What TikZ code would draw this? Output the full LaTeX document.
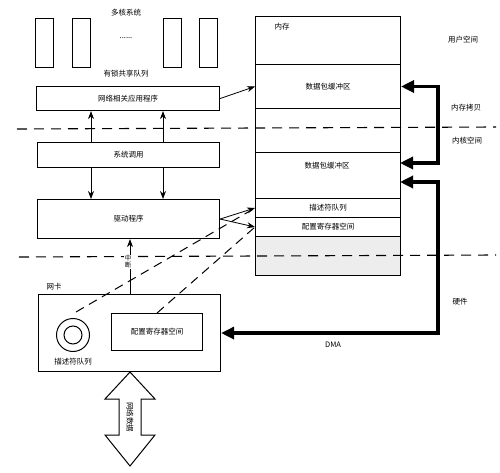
\documentclass[tikz,border=0pt]{standalone}
\usepackage{fontspec}
\setmainfont{Noto Sans CJK SC}
\usetikzlibrary{arrows.meta}
\begin{document}
\begin{tikzpicture}[x=1pt,y=-1pt,
  font=\fontsize{7.5}{8}\selectfont,
  box/.style={draw, line width=1.1pt, fill=white, inner sep=0pt, anchor=north west},
  sect/.style={draw, line width=1pt, inner sep=0pt, anchor=north west, minimum width=145pt},
  lbl/.style={inner sep=1pt},
  bound/.style={line width=1.1pt, dash pattern=on 10pt off 7pt},
  link/.style={line width=1pt, dash pattern=on 9pt off 6pt},
  thinarrow/.style={line width=0.8pt, -{Stealth[length=8pt,width=6pt]}},
  thinboth/.style={line width=0.8pt, {Stealth[length=8pt,width=6pt]}-{Stealth[length=8pt,width=6pt]}},
  bigarrow/.style={line width=3.2pt, {Triangle[length=13pt,width=12pt]}-{Triangle[length=13pt,width=12pt]}}]
\useasboundingbox (0,0) rectangle (500,473);

% ---- multi-core system
\node[lbl] (multi) at (126,13) {多核系统};
\node[box, minimum width=18pt, minimum height=49pt] (core1) at (35,18) {};
\node[box, minimum width=18pt, minimum height=49pt] (core2) at (72,18) {};
\node[box, minimum width=18pt, minimum height=49pt] (core3) at (163,18) {};
\node[box, minimum width=18pt, minimum height=49pt] (core4) at (199,18) {};
\node[lbl] (dots) at (126,38) {......};
\node[lbl] (lockq) at (126,74) {有锁共享队列};

% ---- vertical double arrows (behind system call box)
\coordinate (vx1) at (91,0);
\coordinate (vx2) at (163,0);

\node[box, minimum width=183pt, minimum height=24pt] (app) at (36,86) {};
\node[lbl] at (app.center) {网络相关应用程序};
\node[box, minimum width=182pt, minimum height=39pt] (driver) at (37,199) {};
\node[lbl] at (driver.center) {驱动程序};

\draw[thinboth] (app.south -| vx1) -- (driver.north -| vx1);
\draw[thinboth] (app.south -| vx2) -- (driver.north -| vx2);

\node[box, minimum width=182pt, minimum height=25pt] (syscall) at (37,142) {};
\node[lbl] at (syscall.center) {系统调用};

% ---- memory
\node[sect, minimum height=48pt] (memtop) at (255,16) {};
\node[lbl] (memlbl) at (282,27) {内存};
\node[sect, minimum height=44pt] (buf1) at (255,64) {};
\node[lbl] at (buf1.center) {数据包缓冲区};
\node[sect, minimum height=44pt] (memgap) at (255,108) {};
\node[sect, minimum height=46pt] (buf2) at (255,152) {};
\node[lbl] (buf2lbl) at (327,166) {数据包缓冲区};
\node[sect, minimum height=19pt] (desc) at (255,198) {};
\node[lbl] at (desc.center) {描述符队列};
\node[sect, minimum height=19pt] (cfg) at (255,217) {};
\node[lbl] at (cfg.center) {配置寄存器空间};
\node[sect, minimum height=39pt, fill=gray!14] (membot) at (255,236) {};

% ---- boundary lines
\coordinate (b1a) at (17,129);
\coordinate (b1b) at (496,127);
\coordinate (b2a) at (19,257);
\coordinate (b2b) at (496,255);
\draw[bound] (b1a) -- (b1b);
\draw[bound] (b2a) -- (b2b);

% ---- right labels
\node[lbl] (user) at (463,40) {用户空间};
\node[lbl] (copy) at (466,108) {内存拷贝};
\node[lbl] (kernel) at (467,141) {内核空间};
\node[lbl] (hw) at (460,302) {硬件};

% ---- NIC
\node[lbl] (niclbl) at (54,287) {网卡};
\node[box, minimum width=182pt, minimum height=77pt] (nic) at (38,294) {};
\node[draw, circle, line width=1pt, minimum size=33pt, inner sep=0pt] (ring) at (73,335) {};
\node[draw, circle, line width=1pt, minimum size=18pt, inner sep=0pt] (ringin) at (73,335) {};
\node[lbl] (ringlbl) at (73,362) {描述符队列};
\node[box, minimum width=91pt, minimum height=37pt] (niccfg) at (111,313) {};
\node[lbl] at (niccfg.center) {配置寄存器空间};

% ---- thin arrows
\draw[thinarrow] (app.east) -- (buf1.west);
\draw[thinarrow] (driver.east) -- (desc.west);
\draw[thinarrow] (driver.east) -- (cfg.west);
\coordinate (intx) at (130,0);
\draw[thinarrow] (nic.north -| intx) -- (driver.south -| intx);
\node[fill=white, inner sep=0.5pt, align=center, font=\fontsize{6.5}{7}\selectfont] (intr) at (128,262) {中\\断};

% ---- dashed links NIC -> memory
\coordinate (l1) at (76,312);
\draw[link] (l1) -- (desc.west);
\draw[link] (niccfg.north) -- (cfg.west);

% ---- thick arrows
\coordinate (cx) at (438,0);
\coordinate (c1) at (400,163);
\coordinate (c2) at (400,182);
\draw[bigarrow] (buf1.east) -- (buf1.east -| cx) -- (c1 -| cx) -- (c1);
\draw[bigarrow] (c2) -- (c2 -| cx) -- (nic.east -| cx) -- (nic.east);
\node[lbl] (dma) at (333,345) {DMA};

% ---- network data double arrow
\draw[line width=1pt, fill=white]
  (130,372) -- (155,399) -- (141,399) -- (141,435) -- (155,435) -- (130,466)
  -- (105,435) -- (119,435) -- (119,399) -- (105,399) -- cycle;
\node[lbl, rotate=-90] (netdata) at (130,417) {网络数据};
\end{tikzpicture}
\end{document}
